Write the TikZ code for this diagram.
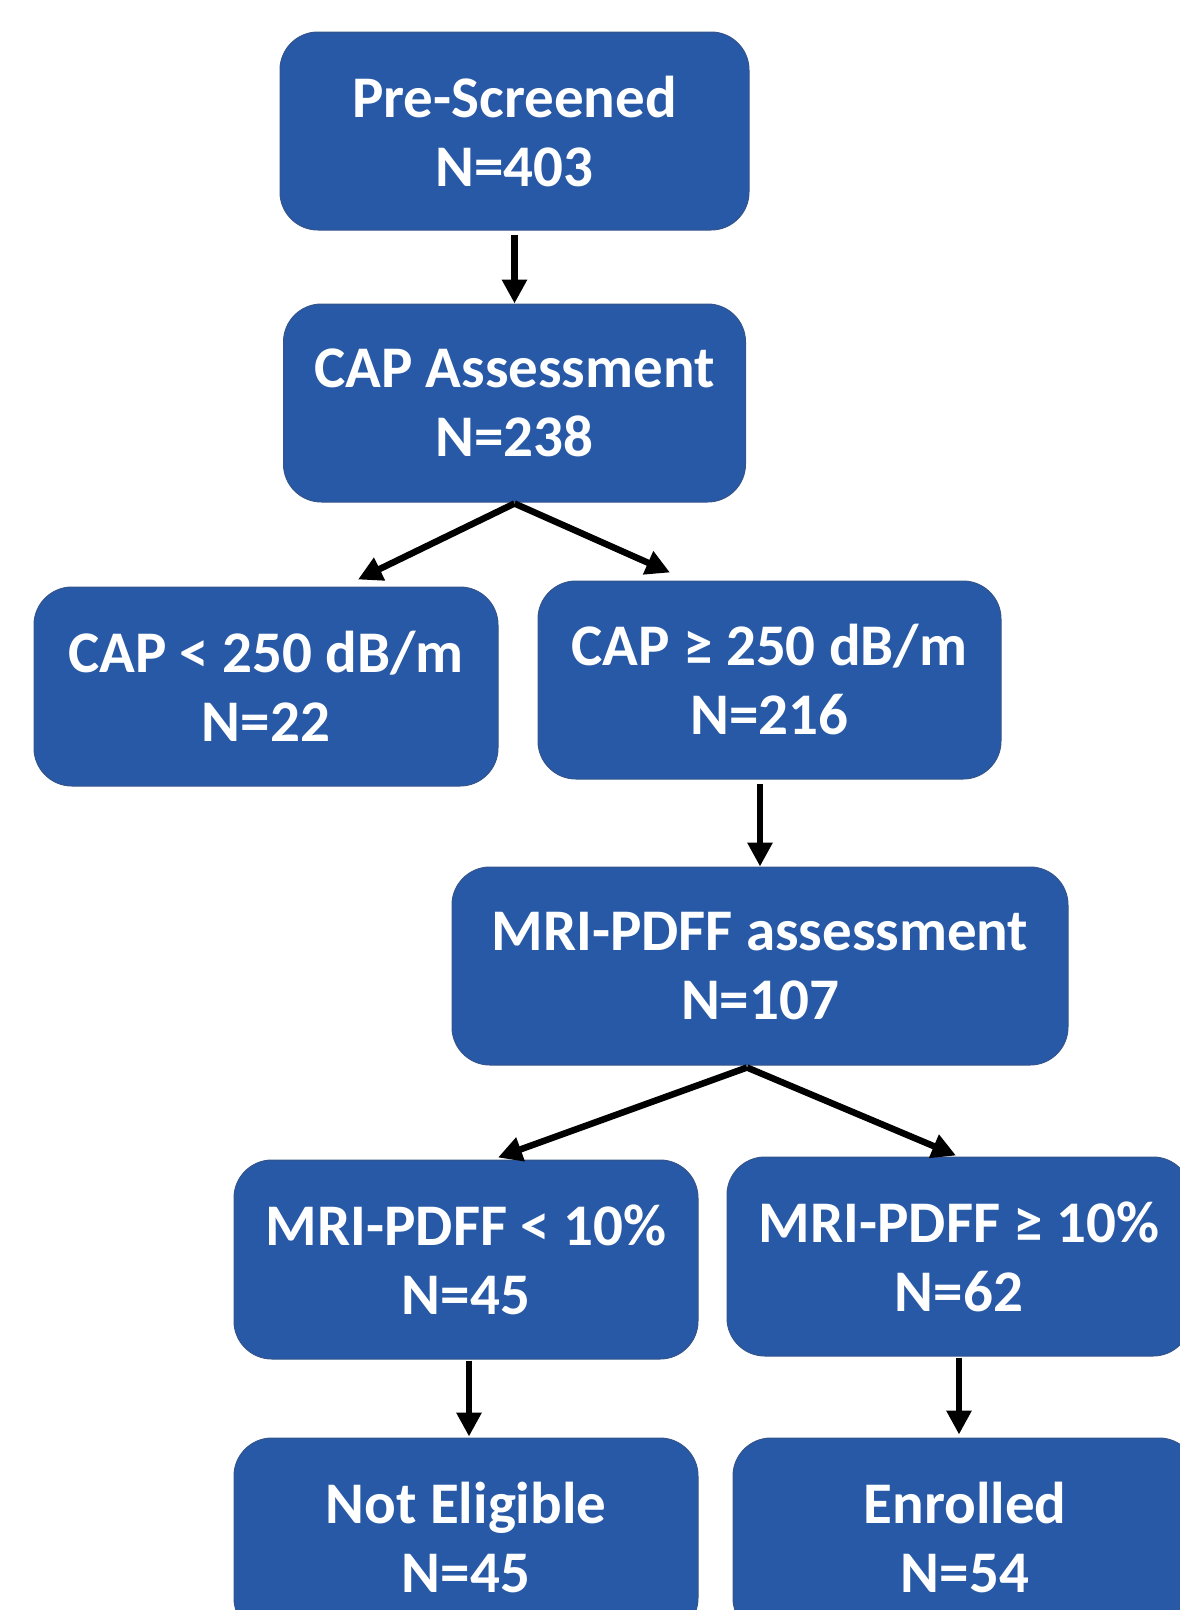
\documentclass[tikz,border=0pt]{standalone}
\usepackage{fontspec}
\setmainfont{Carlito}
\usetikzlibrary{arrows.meta,calc}
\definecolor{boxblue}{RGB}{40,89,166}
\definecolor{boxedge}{RGB}{52,84,140}
\tikzset{
  flowbox/.style={rectangle, rounded corners=38pt, fill=boxblue, draw=boxedge, line width=1pt,
    text=white, align=center, inner sep=0pt, minimum width=#1,
    font=\fontsize{59}{69}\selectfont\bfseries},
  flowbox/.default=464pt,
  arr/.style={line width=6.5pt, -{Triangle[length=24pt,width=24pt]}}
}
\begin{document}
\begin{tikzpicture}[x=1pt,y=-1pt]
\useasboundingbox (0,0) rectangle (1180,1610);
\clip (0,0) rectangle (1180,1610);
\node[flowbox=469pt, minimum height=198pt] (pre) at (514.5,131) {Pre-Screened\\N=403};
\node[flowbox=462pt, minimum height=198pt] (cap) at (514.5,403) {CAP Assessment\\N=238};
\node[flowbox, minimum height=199pt] (low) at (266,686.5) {CAP < 250 dB/m\\N=22};
\node[flowbox=463pt, minimum height=198pt] (high) at (769.5,680) {CAP ≥ 250 dB/m\\N=216};
\node[flowbox=616pt, minimum height=198pt] (mri) at (760,966) {MRI-PDFF assessment\\N=107};
\node[flowbox, minimum height=199pt] (mlow) at (466,1259.5) {MRI-PDFF < 10\%\\N=45};
\node[flowbox, minimum height=199pt] (mhigh) at (959,1256.5) {MRI-PDFF ≥ 10\%\\N=62};
\node[flowbox, minimum height=198pt] (ne) at (466,1537) {Not Eligible\\N=45};
\node[flowbox, minimum height=198pt] (enr) at (965,1537) {Enrolled\\N=54};

\coordinate (capfork) at ($(cap.south)+(0,1)$);
\coordinate (mrifork) at ($(mri.south)+(-13,2)$);

\draw[arr] ($(pre.south)+(0,4)$) -- (cap.north);
\draw[arr] (capfork) -- ($(low.north)+(92,-7)$);
\draw[arr] (capfork) -- ($(high.north)+(-99.5,-8)$);
\draw[arr] ($(high.south)+(-9.5,4)$) -- (mri.north);
\draw[arr] (mrifork) -- ($(mlow.north)+(32,-2)$);
\draw[arr] (mrifork) -- ($(mhigh.north)+(-3,-1)$);
\draw[arr] ($(mlow.south)+(3,1)$) -- ($(ne.north)+(3,-1)$);
\draw[arr] ($(mhigh.south)+(0,1)$) -- ($(enr.north)+(-6,-3)$);
\end{tikzpicture}
\end{document}
